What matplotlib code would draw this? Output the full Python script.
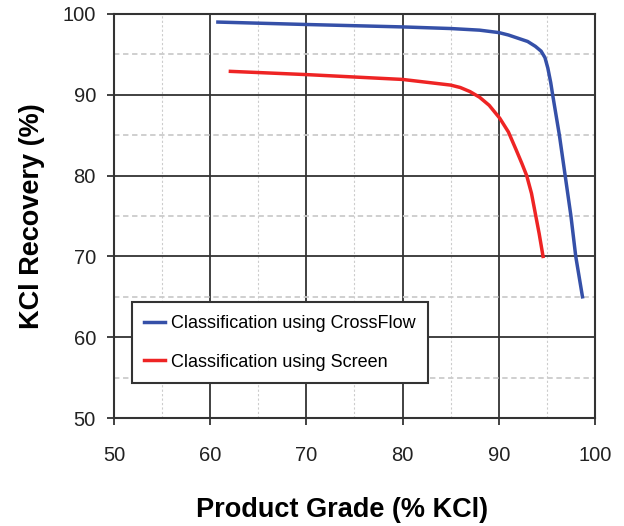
import matplotlib.pyplot as plt
from matplotlib.ticker import MultipleLocator

plt.rcParams['font.family'] = ['Liberation Sans', 'DejaVu Sans']

# CrossFlow curve
grade_cf = [60.8, 70, 80, 85, 88, 90, 91, 92, 93, 93.8, 94.4, 94.8, 95.1, 95.4, 95.6,
            96.3, 96.9, 97.5, 98.0, 98.7]
rec_cf = [99.0, 98.7, 98.4, 98.2, 98.0, 97.7, 97.4, 97.0, 96.6, 96.0, 95.4, 94.6, 93.3, 91.5, 90.0,
          85.0, 80.0, 75.0, 70.0, 65.0]

# Screen curve
grade_sc = [62.1, 70, 80, 85, 86, 87, 88, 89, 90.1, 91, 91.8, 92.4, 92.9, 93.4, 93.8, 94.2, 94.6]
rec_sc = [92.9, 92.5, 91.9, 91.2, 90.9, 90.4, 89.7, 88.7, 87.1, 85.4, 83.2, 81.5, 80.0, 77.8,
          75.3, 72.8, 70.0]

fig = plt.figure(figsize=(6.24, 5.26), dpi=100)
ax = fig.add_axes([0.1827, 0.2053, 0.7708, 0.7681])

ax.plot(grade_cf, rec_cf, color='#3550a8', lw=2.5, label='Classification using CrossFlow')
ax.plot(grade_sc, rec_sc, color='#ee2424', lw=2.5, label='Classification using Screen')

ax.set_xlim(50, 100)
ax.set_ylim(50, 100)
ax.xaxis.set_major_locator(MultipleLocator(10))
ax.yaxis.set_major_locator(MultipleLocator(10))
ax.xaxis.set_minor_locator(MultipleLocator(5))
ax.yaxis.set_minor_locator(MultipleLocator(5))

ax.grid(which='major', color='#333333', lw=1.3, ls='-')
ax.grid(which='minor', axis='y', color='#cccccc', lw=1.3, ls=(0, (3, 2)))
ax.grid(which='minor', axis='x', color='#cccccc', lw=0.8, ls=(0, (2, 2)))
ax.set_axisbelow(True)

for s in ax.spines.values():
    s.set_color('#333333')
    s.set_linewidth(1.5)

ax.tick_params(which='major', direction='out', length=5, width=1.3, color='#333333',
               labelsize=14.5, labelcolor='#222222')
ax.tick_params(axis='x', pad=15)
ax.tick_params(axis='y', pad=8)
ax.tick_params(which='minor', length=0)

ax.set_xlabel('Product Grade (% KCl)', fontsize=19.5, fontweight='bold')
ax.xaxis.set_label_coords(0.474, -0.196)
ax.set_ylabel('KCl Recovery (%)', fontsize=19.5, fontweight='bold', labelpad=13)

leg = ax.legend(loc='lower left', bbox_to_anchor=(0.037, 0.086), fontsize=13,
                frameon=True, fancybox=False, handlelength=1.15, handletextpad=0.3,
                labelspacing=1.2, borderpad=0.7, borderaxespad=0)
leg.get_frame().set_edgecolor('#333333')
leg.get_frame().set_linewidth(1.5)
leg.get_frame().set_alpha(1)

plt.savefig('out.png', dpi=100)
